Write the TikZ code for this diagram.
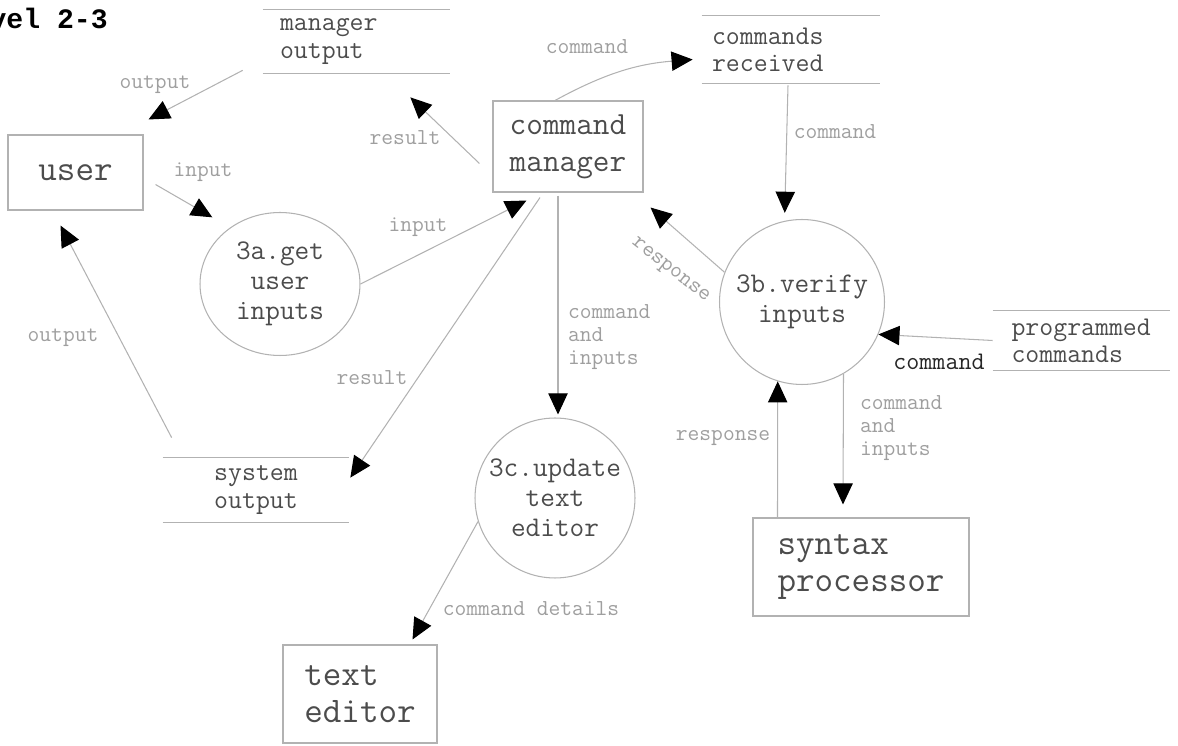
\documentclass[tikz,border=0pt]{standalone}
\usepackage{fontspec}
\renewcommand{\familydefault}{\ttdefault}
\newfontfamily\headfont{Liberation Mono}
\usetikzlibrary{arrows.meta, calc, shapes.geometric}

\begin{document}
\begin{tikzpicture}[
  x=0.02cm, y=-0.02cm,
  line/.style={draw=gray!60, line width=0.6pt},
  flow/.style={line, -{Triangle[length=12pt, width=11pt, color=black]}},
  entity/.style={line, align=left, text=black!70, font=\fontsize{20.5}{21}\selectfont},
  process/.style={circle, line, align=center, inner sep=0pt, text=black!70, font=\fontsize{16.2}{17}\selectfont},
  store/.style={align=left, inner ysep=0pt, text=black!70, font=\fontsize{15.4}{15.5}\selectfont},
  lbl/.style={inner sep=1pt, text=gray!75, font=\fontsize{13}{13.3}\selectfont},
]
  \clip (0,0) rectangle (1178,746);

  \node[anchor=east, inner sep=0pt, font=\headfont\bfseries\fontsize{16}{19}\selectfont] (title) at (108,18) {Level 2-3};

  % external entities
  \node[entity, minimum width=2.7cm, minimum height=1.5cm] (user) at (75.5,172.5) {user};
  \node[entity, minimum width=3cm, minimum height=1.82cm, font=\fontsize{18.4}{21}\selectfont] (cm) at (568,146.5) {command\\manager};
  \node[entity, minimum width=4.32cm, minimum height=1.96cm] (sp) at (861,567) {syntax\\processor};
  \node[entity, minimum width=3.08cm, minimum height=1.96cm] (te) at (360,694) {text\\editor};

  % processes
  \node[process, ellipse, minimum width=3.2cm, minimum height=2.86cm] (p3a) at (280,284) {3a.get\\user\\inputs};
  \node[process, minimum size=3.3cm] (p3b) at (802,302) {3b.verify\\inputs};
  \node[process, minimum size=3.2cm] (p3c) at (555,498) {3c.update\\text\\editor};

  % data stores
  \node[store, text width=3.06cm, inner xsep=0.34cm, minimum height=1.26cm] (mout) at (356.5,41.5) {manager\\output};
  \node[store, text width=3.16cm, inner xsep=0.2cm, minimum height=1.34cm] (crec) at (791,49.5) {commands\\received};
  \node[store, text width=2.8cm, inner xsep=0.37cm, minimum height=1.18cm] (prog) at (1081.5,340.5) {programmed\\commands};
  \node[store, text width=3.32cm, inner xsep=0.2cm, minimum height=1.28cm, align=center] (sout) at (256,490) {system\\output};
  \foreach \s in {mout,crec,prog,sout}
    \draw[line] (\s.north west) -- (\s.north east) (\s.south west) -- (\s.south east);

  % flows
  \draw[flow] ($(mout.south west)+(-20,-3)$) -- ($(user.north east)+(5,-15)$);
  \draw[flow] ($(cm.west)+(-13,17)$) -- ($(mout.south east)+(-40,24)$);
  \draw[flow] ($(user.east)+(12,12)$) -- ($(p3a.135)+(-14,-13)$);
  \draw[flow] (p3a.east) -- ($(cm.south west)+(34,8)$);
  \draw[flow] ($(cm.south)+(-28,5)$) -- ($(sout.north east)+(1,20)$);
  \draw[flow] ($(sout.north west)+(9,-20)$) -- ($(user.south)+(-15,15)$);
  \draw[flow] ($(cm.south)+(-10,3)$) -- ($(p3c.north)+(3,-3)$);
  \draw[flow] ($(cm.north)+(-13,0)$) to[bend left=12] ($(crec.west)+(-9,10)$);
  \draw[flow] ($(crec.south)+(-3,2)$) -- ($(p3b.102)+(0,-8)$);
  \draw[flow] (p3b.159) -- ($(cm.south east)+(7,15)$);
  \draw[flow] (prog.west) -- (p3b.-23);
  \draw[flow] (p3b.-60) -- ($(sp.north)+(-18,-13)$);
  \draw[flow] ($(sp.north west)+(25,0)$) -- (p3b.-107);
  \draw[flow] (p3c.-163) -- ($(te.north east)+(-25,-5)$);

  % flow labels
  \node[lbl] (l-out1) at (155,85) {output};
  \node[lbl] (l-res1) at (405,138) {result};
  \node[lbl] (l-in1) at (203,172) {input};
  \node[lbl] (l-in2) at (418,227) {input};
  \node[lbl] (l-res2) at (372,378) {result};
  \node[lbl] (l-out2) at (63,338) {output};
  \node[lbl, anchor=west, align=left] (l-ci1) at (566,337) {command\\and\\inputs};
  \node[lbl] (l-cmd1) at (587,47) {command};
  \node[lbl] (l-cmd2) at (835,132) {command};
  \node[lbl, rotate=-38] (l-resp1) at (670,271) {response};
  \node[lbl, text=black!85, font=\fontsize{14.4}{14}\selectfont] (l-cmd3) at (939,362) {command};
  \node[lbl, anchor=west, align=left] (l-ci2) at (858,428) {command\\and\\inputs};
  \node[lbl] (l-resp2) at (723,438) {response};
  \node[lbl] (l-det) at (531,609) {command details};
\end{tikzpicture}
\end{document}
